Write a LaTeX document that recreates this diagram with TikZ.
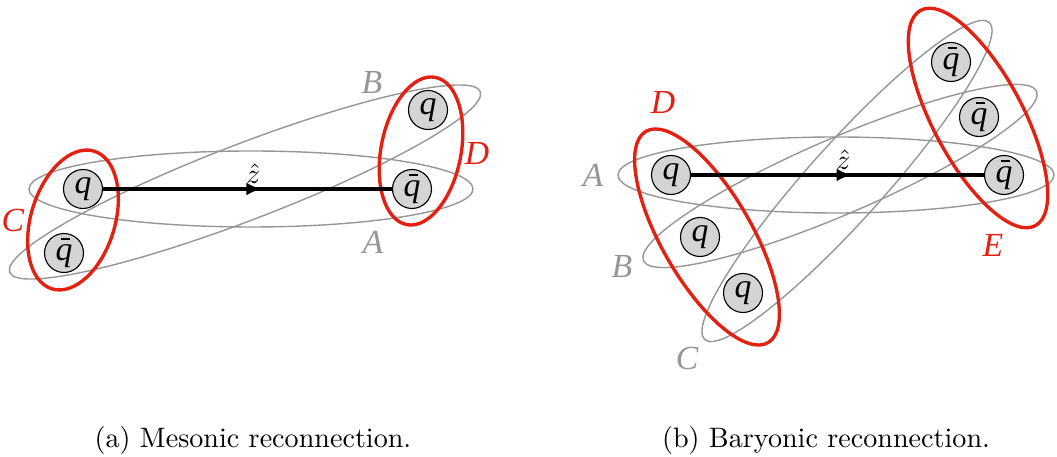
\documentclass[tikz,border=0pt]{standalone}
\usepackage{fontspec}
\usepackage{tikz}
\usetikzlibrary{positioning, arrows.meta, shapes.geometric, decorations.markings}
\newfontfamily\figfont{Liberation Serif}
\definecolor{ringred}{RGB}{228, 32, 18}
\definecolor{ringgray}{RGB}{150, 150, 150}
\definecolor{quarkfill}{RGB}{212, 212, 212}
\newcommand{\pix}{0.0125cm}
\newcommand{\qb}{\rlap{\hspace{0.16em}\rule[0.62em]{0.28em}{0.06em}}q}

\begin{document}
\begin{tikzpicture}[x=0.0125cm, y=-0.0125cm,
                quark/.style={circle, draw=black, line width=0.4pt, fill=quarkfill,
                    minimum size=39*\pix, inner sep=0pt, font=\figfont\itshape\large},
                gring/.style={ellipse, draw=ringgray, line width=0.5pt, inner sep=0pt},
                rring/.style={ellipse, draw=ringred, line width=1.2pt, inner sep=0pt},
                glbl/.style={text=ringgray, font=\figfont\itshape\large, inner sep=0pt},
                rlbl/.style={text=ringred, font=\figfont\itshape\large, inner sep=0pt},
                zline/.style={line width=1.2pt, postaction={decorate},
                    decoration={markings, mark=at position 0.55 with {\arrow{Latex[length=5.5pt, width=4.5pt]}}}}
            ]
            \useasboundingbox (0,0) rectangle (1057,457);

            % (a) mesonic
            \node[gring, minimum width=444*\pix, minimum height=76*\pix] (ringA) at (251,189) {};
            \node[gring, minimum width=504*\pix, minimum height=76*\pix, rotate=21] (ringB) at (245,182) {};
            \node[rring, minimum width=144*\pix, minimum height=84*\pix, rotate=73] (ringC) at (73,220) {};
            \node[rring, minimum width=150*\pix, minimum height=80*\pix, rotate=79] (ringD) at (421,151) {};

            \node[quark] (qa) at (83,189) {q};
            \node[quark] (qba) at (64,253) {\qb};
            \node[quark] (qc) at (428,110) {q};
            \node[quark] (qbc) at (412,189) {\qb};

            \draw[zline] (qa) -- (qbc) node[pos=0.52, above, inner sep=1.5pt] (za) {$\hat{z}$};

            \node[glbl] (lblB) at (372,83) {B};
            \node[glbl] (lblA) at (373,242) {A};
            \node[rlbl] (lblC) at (13,220) {C};
            \node[rlbl] (lblD) at (477,153) {D};

            % (b) baryonic
            \node[gring, minimum width=436*\pix, minimum height=76*\pix] (ringA2) at (836,175) {};
            \node[gring, minimum width=428*\pix, minimum height=76*\pix, rotate=23.3] (ringB2) at (840,176) {};
            \node[gring, minimum width=426*\pix, minimum height=76*\pix, rotate=48.1] (ringC2) at (847,181) {};
            \node[rring, minimum width=244*\pix, minimum height=90*\pix, rotate=-60] (ringD2) at (707,237) {};
            \node[rring, minimum width=244*\pix, minimum height=90*\pix, rotate=-62] (ringE2) at (978,118) {};

            \node[quark] (q1) at (671,175) {q};
            \node[quark] (q2) at (700,237) {q};
            \node[quark] (q3) at (743,293) {q};
            \node[quark] (qb1) at (951,62) {\qb};
            \node[quark] (qb2) at (979,117) {\qb};
            \node[quark] (qb3) at (1004,175) {\qb};

            \draw[zline] (q1) -- (qb3) node[pos=0.52, above, inner sep=1.5pt] (zb) {$\hat{z}$};

            \node[glbl] (lblA2) at (593,175) {A};
            \node[glbl] (lblB2) at (622,267) {B};
            \node[glbl] (lblC2) at (687,358) {C};
            \node[rlbl] (lblD2) at (663,102) {D};
            \node[rlbl] (lblE2) at (993,245) {E};

            % captions
            \node (capa) at (253,440) {(a) Mesonic reconnection.};
            \node (capb) at (826,440) {(b) Baryonic reconnection.};

            \end{tikzpicture}
\end{document}
